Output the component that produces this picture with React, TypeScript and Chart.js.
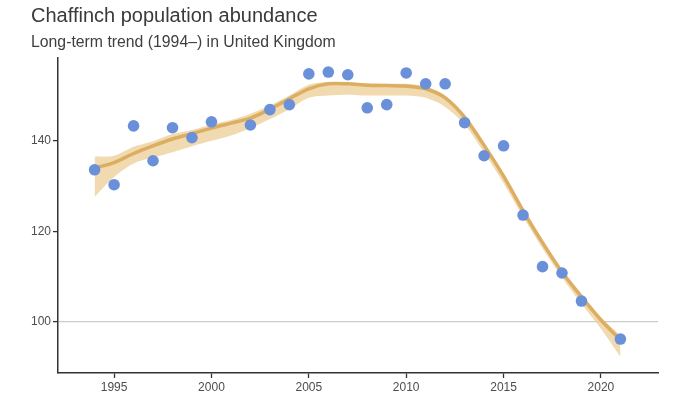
import React, { useEffect, useRef } from "react";
import { Chart, registerables } from "chart.js";

Chart.register(...registerables);

const years = [1994, 1995, 1996, 1997, 1998, 1999, 2000, 2002, 2003, 2004, 2005, 2006, 2007, 2008, 2009, 2010, 2011, 2012, 2013, 2014, 2015, 2016, 2017, 2018, 2019, 2021];
const index = [133.6, 130.3, 143.3, 135.6, 142.9, 140.7, 144.2, 143.5, 146.9, 148.0, 154.8, 155.2, 154.6, 147.3, 148.0, 155.0, 152.6, 152.6, 144.0, 136.7, 138.9, 123.6, 112.2, 110.8, 104.6, 96.2];

const trendYears = [1994, 1995, 1996, 1997, 1998, 1999, 2000, 2001, 2002, 2003, 2004, 2005, 2006, 2007, 2008, 2009, 2010, 2011, 2012, 2013, 2014, 2015, 2016, 2017, 2018, 2019, 2020, 2021];
const trend = [134.0, 135.2, 137.2, 138.9, 140.4, 141.6, 142.8, 143.9, 145.0, 147.0, 149.3, 151.5, 152.6, 152.6, 152.3, 152.2, 152.1, 151.5, 149.5, 145.2, 139.0, 132.2, 124.6, 117.5, 111.0, 105.5, 100.4, 96.0];
const lower = [127.6, 132.0, 135.0, 136.3, 137.5, 138.8, 140.0, 141.2, 142.8, 144.8, 147.0, 149.5, 150.0, 150.2, 150.0, 150.0, 150.0, 149.5, 147.5, 143.6, 137.4, 130.6, 123.2, 116.2, 109.8, 104.0, 98.5, 92.3];
const upper = [136.5, 136.7, 138.7, 139.9, 141.5, 142.4, 143.6, 144.6, 146.0, 147.8, 150.0, 152.4, 153.0, 152.9, 152.7, 152.6, 152.6, 152.0, 150.0, 145.8, 139.6, 132.8, 125.2, 118.2, 111.6, 106.2, 101.0, 97.0];

const xTicks = [1995, 2000, 2005, 2010, 2015, 2020];
const yTicks = [100, 120, 140];

const titleText = "Chaffinch population abundance";
const subtitleText = "Long-term trend (1994\u2013) in United Kingdom";

const FONT = "'Liberation Sans', Arial, Helvetica, sans-serif";

export default function App() {
  const ref = useRef<HTMLCanvasElement | null>(null);

  useEffect(() => {
    document.body.style.margin = "0";
    const canvas = ref.current;
    if (!canvas) return;

    const titlePlugin = {
      id: "customTitles",
      afterDraw(chart: any) {
        const ctx = chart.ctx;
        ctx.save();
        ctx.textAlign = "left";
        ctx.textBaseline = "alphabetic";
        ctx.fillStyle = "#3a3a3a";
        ctx.font = `20px ${FONT}`;
        ctx.fillText(titleText, 31, 22);
        ctx.fillStyle = "#3f3f3f";
        ctx.font = `15.8px ${FONT}`;
        ctx.fillText(subtitleText, 31, 47);
        ctx.restore();
      },
    };

    const chart = new Chart(canvas, {
      type: "line",
      data: {
        datasets: [
          {
            type: "scatter",
            label: "Index",
            data: years.map((y, i) => ({ x: y, y: index[i] })),
            backgroundColor: "#6b90da",
            borderWidth: 0,
            pointRadius: 5.8,
            order: 0,
          } as any,
          {
            label: "Trend",
            data: trendYears.map((y, i) => ({ x: y, y: trend[i] })),
            borderColor: "#dcae62",
            borderWidth: 3.5,
            pointRadius: 0,
            tension: 0.3,
            fill: false,
            order: 1,
          },
          {
            label: "Upper",
            data: trendYears.map((y, i) => ({ x: y, y: upper[i] })),
            borderColor: "rgba(0,0,0,0)",
            borderWidth: 0,
            pointRadius: 0,
            tension: 0.3,
            backgroundColor: "rgba(236, 205, 150, 0.75)",
            fill: "+1",
            order: 2,
          },
          {
            label: "Lower",
            data: trendYears.map((y, i) => ({ x: y, y: lower[i] })),
            borderColor: "rgba(0,0,0,0)",
            borderWidth: 0,
            pointRadius: 0,
            tension: 0.3,
            fill: false,
            order: 3,
          },
        ],
      },
      options: {
        animation: false,
        responsive: false,
        maintainAspectRatio: false,
        layout: { padding: { left: 31, top: 58, right: 22, bottom: 12 } },
        plugins: {
          legend: { display: false },
          tooltip: { enabled: false },
          title: { display: false },
        },
        scales: {
          x: {
            type: "linear",
            min: 1992.12,
            max: 2022.93,
            afterBuildTicks(scale: any) {
              scale.ticks = xTicks.map((v) => ({ value: v }));
            },
            afterFit(scale: any) {
              scale.height = 20;
            },
            grid: {
              drawOnChartArea: false,
              drawTicks: true,
              tickLength: 5,
              tickColor: "#333333",
              tickWidth: 1.3,
            },
            border: { display: true, color: "#333333", width: 1.5 },
            ticks: {
              color: "#4d4d4d",
              font: { family: FONT, size: 12 },
              padding: 2,
              maxRotation: 0,
              callback: (v: any) => String(v),
            },
          },
          y: {
            type: "linear",
            min: 88.7,
            max: 158.3,
            afterBuildTicks(scale: any) {
              scale.ticks = yTicks.map((v) => ({ value: v }));
            },
            afterFit(scale: any) {
              scale.width = 27;
            },
            grid: {
              drawOnChartArea: true,
              drawTicks: true,
              tickLength: 5,
              color: (c: any) => (c.tick && c.tick.value === 100 ? "#cccccc" : "rgba(0,0,0,0)"),
              lineWidth: 1.2,
              tickColor: "#333333",
              tickWidth: 1.3,
            },
            border: { display: true, color: "#333333", width: 1.5 },
            ticks: {
              color: "#4d4d4d",
              font: { family: FONT, size: 12 },
              padding: 2,
              callback: (v: any) => String(v),
            },
          },
        },
      },
      plugins: [titlePlugin],
    } as any);

    return () => chart.destroy();
  }, []);

  return (
    <div style={{ width: 680, height: 405, background: "#ffffff" }}>
      <canvas ref={ref} width={680} height={405} style={{ width: 680, height: 405, display: "block" }} />
    </div>
  );
}
